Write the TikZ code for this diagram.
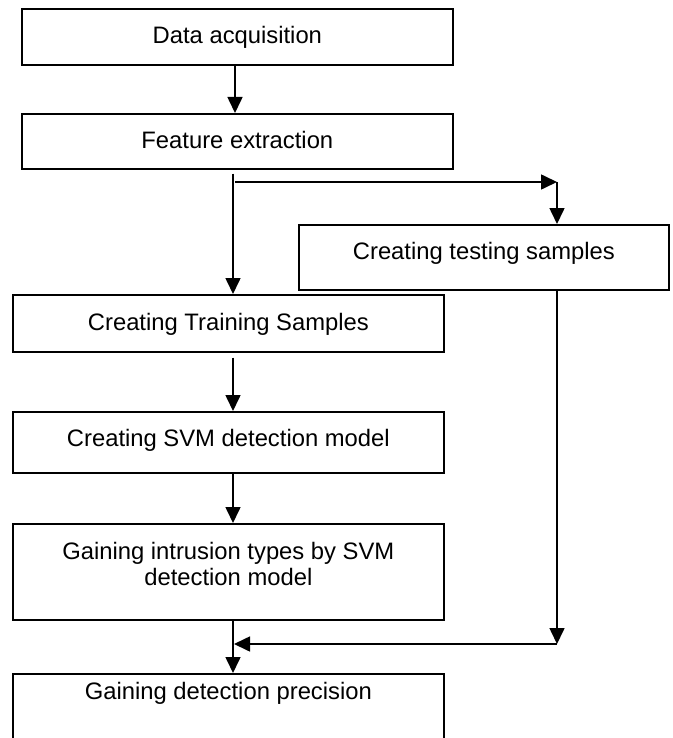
\documentclass[tikz,border=0pt]{standalone}
\usepackage{fontspec}
\setmainfont{Liberation Sans}
\usetikzlibrary{arrows.meta}
\begin{document}
\begin{tikzpicture}[x=1pt,y=-1pt,
  box/.style={draw, line width=1.7pt, inner sep=0pt, anchor=north west, align=center,
    font=\fontsize{23.8pt}{26pt}\selectfont},
  conn/.style={line width=1.6pt, -{Triangle[length=16pt,width=15pt]}}]
\useasboundingbox (0,0) rectangle (672,738);
\clip (0,0) rectangle (672,738);
% column coordinates
\coordinate (colA) at (235,0);
\coordinate (colL) at (233,0);
\coordinate (colR) at (557,0);
% boxes
\node[box, minimum width=431pt, text height=35pt, text depth=21pt] (da) at (21,8) {Data acquisition};
\node[box, minimum width=431pt, text height=35pt, text depth=20pt] (fe) at (21,113) {Feature extraction};
\node[box, minimum width=370pt, text height=35pt, text depth=30pt] (ts) at (298,224) {Creating testing samples};
\node[box, minimum width=431pt, text height=36pt, text depth=21pt] (tr) at (12,294) {Creating Training Samples};
\node[box, minimum width=431pt, text height=35pt, text depth=26pt] (svm) at (12,411) {Creating SVM detection model};
\node[box, minimum width=431pt, text height=62pt, text depth=34pt] (gi) at (12,523) {Gaining intrusion types by SVM\\detection model};
\node[box, minimum width=431pt, text height=26pt, text depth=85pt] (gp) at (12,673) {Gaining detection precision};
% helper coordinates
\coordinate (fs) at ([yshift=-4pt]fe.south);
\coordinate (trs) at ([yshift=-5pt]tr.south);
\coordinate (bl) at (235,182);
\coordinate (br) at (557,182);
\coordinate (jr) at (557,644);
\coordinate (jl) at (234,644);
% connectors
\draw[conn] (da.south -| colA) -- (fe.north -| colA);
\draw[conn] (fs -| colL) -- (tr.north -| colL);
\draw[conn] (bl) -- (br);
\draw[conn] (br) -- (ts.north -| colR);
\draw[conn] (trs -| colL) -- (svm.north -| colL);
\draw[conn] (svm.south -| colL) -- (gi.north -| colL);
\draw[conn] (gi.south -| colL) -- (gp.north -| colL);
\draw[conn] (ts.south -| colR) -- (jr);
\draw[conn] (jr) -- (jl);
\end{tikzpicture}
\end{document}
